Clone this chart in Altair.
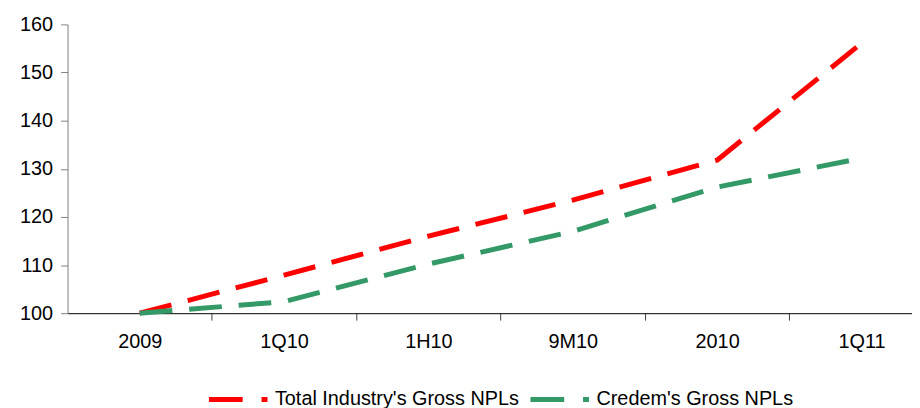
import json
import altair as alt
import pandas as pd

categories = ["2009", "1Q10", "1H10", "9M10", "2010", "1Q11"]
industry = [100, 107.9, 116.0, 123.5, 131.8, 156.1]
credem = [100, 102.4, 110.2, 117.0, 126.2, 132.2]
series_names = ["Total Industry's Gross NPLs", "Credem's Gross NPLs"]
series_colors = ["#FF0000", "#339966"]
y_ticks = [100, 110, 120, 130, 140, 150, 160]

rows = []
for name, vals in zip(series_names, [industry, credem]):
    for i, (c, v) in enumerate(zip(categories, vals)):
        rows.append({"idx": i, "cat": c, "value": v, "series": name})
df = pd.DataFrame(rows)

FONT = "Liberation Sans"
FS = 20
cats_js = json.dumps(categories)
x_values = [i * 0.5 for i in range(0, 2 * len(categories) - 1)]

chart = alt.Chart(df).mark_line(
    strokeDash=[33, 17], strokeWidth=5, strokeCap="butt"
).encode(
    x=alt.X(
        "idx:Q",
        scale=alt.Scale(domain=[-0.5, len(categories) - 0.65], nice=False, zero=False),
        axis=alt.Axis(
            values=x_values,
            title=None,
            grid=False,
            tickSize=7,
            tickColor="#404040",
            tickOpacity={"condition": {"test": "datum.value % 1 == 0", "value": 0}, "value": 1},
            domainColor="#000000",
            labelPadding=12,
            labelFont=FONT,
            labelFontSize=FS,
            labelColor="#000000",
            labelExpr=f"datum.value % 1 == 0 ? {cats_js}[datum.value] : ''",
        ),
    ),
    y=alt.Y(
        "value:Q",
        scale=alt.Scale(domain=[100, 160], nice=False, zero=False),
        axis=alt.Axis(
            values=y_ticks,
            title=None,
            grid=False,
            tickSize=7,
            tickColor="#808080",
            domainColor="#808080",
            labelPadding=8,
            labelFont=FONT,
            labelFontSize=FS,
            labelColor="#000000",
        ),
    ),
    color=alt.Color(
        "series:N",
        sort=series_names,
        scale=alt.Scale(domain=series_names, range=series_colors),
        legend=alt.Legend(
            orient="none",
            legendX=140,
            legendY=346,
            direction="horizontal",
            title=None,
            symbolType="stroke",
            symbolSize=3481,
            symbolStrokeWidth=5,
            symbolDash=[34, 19],
            labelFont=FONT,
            labelFontSize=FS,
            labelColor="#000000",
            labelOffset=5,
            labelLimit=400,
            columnPadding=0,
            padding=0,
        ),
    ),
).properties(
    width=851,
    height=291,
    padding={"left": 11, "top": 5, "right": 0, "bottom": 0},
).configure_view(stroke=None)

chart.save("out.html", embed_options={"renderer": "svg", "actions": False})
